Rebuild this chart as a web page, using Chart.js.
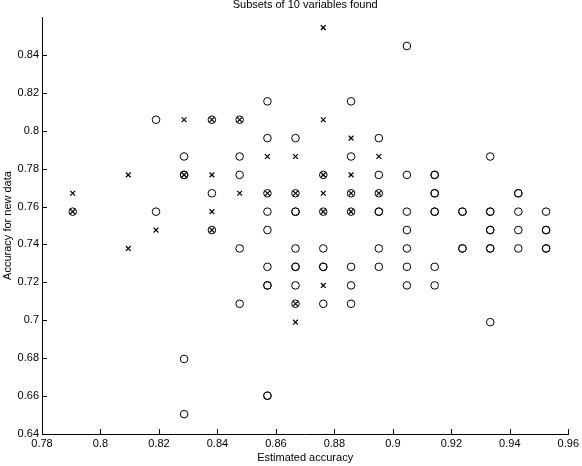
<!DOCTYPE html>
<html>
<head>
<meta charset="utf-8">
<script src="https://cdn.jsdelivr.net/npm/chart.js@4/dist/chart.umd.min.js"></script>
<style>
    html, body { margin: 0; padding: 0; background: #fff; }
    #wrap { width: 582px; height: 466px; }
</style>
</head>
<body>
<div id="wrap"><canvas id="scatter"></canvas></div>
<script>
// circles (duplicated subsets are listed twice)
const circleX = [
    0.7905,
    0.8190, 0.8190,
    0.8286, 0.8286, 0.8286, 0.8286, 0.8286,
    0.8381, 0.8381, 0.8381,
    0.8476, 0.8476, 0.8476, 0.8476, 0.8476,
    0.8571, 0.8571, 0.8571, 0.8571, 0.8571, 0.8571, 0.8571, 0.8571, 0.8571, 0.8571,
    0.8667, 0.8667, 0.8667, 0.8667, 0.8667, 0.8667, 0.8667, 0.8667, 0.8667,
    0.8762, 0.8762, 0.8762, 0.8762, 0.8762, 0.8762,
    0.8857, 0.8857, 0.8857, 0.8857, 0.8857, 0.8857, 0.8857,
    0.8952, 0.8952, 0.8952, 0.8952, 0.8952, 0.8952, 0.8952,
    0.9048, 0.9048, 0.9048, 0.9048, 0.9048, 0.9048, 0.9048,
    0.9143, 0.9143, 0.9143, 0.9143, 0.9143, 0.9143, 0.9143, 0.9143,
    0.9238, 0.9238, 0.9238, 0.9238,
    0.9333, 0.9333, 0.9333, 0.9333, 0.9333, 0.9333, 0.9333, 0.9333,
    0.9429, 0.9429, 0.9429, 0.9429, 0.9429,
    0.9524, 0.9524, 0.9524, 0.9524, 0.9524
];
const circleY = [
    0.7573,
    0.8058, 0.7573,
    0.7864, 0.7767, 0.7767, 0.6796, 0.6505,
    0.8058, 0.7670, 0.7476,
    0.8058, 0.7864, 0.7767, 0.7379, 0.7087,
    0.8155, 0.7961, 0.7670, 0.7573, 0.7476, 0.7282, 0.7184, 0.7184, 0.6602, 0.6602,
    0.7961, 0.7670, 0.7573, 0.7573, 0.7379, 0.7282, 0.7282, 0.7184, 0.7087,
    0.7767, 0.7573, 0.7379, 0.7282, 0.7282, 0.7087,
    0.8155, 0.7864, 0.7670, 0.7573, 0.7282, 0.7184, 0.7087,
    0.7961, 0.7767, 0.7670, 0.7573, 0.7573, 0.7379, 0.7282,
    0.8447, 0.7767, 0.7573, 0.7476, 0.7379, 0.7282, 0.7184,
    0.7767, 0.7767, 0.7670, 0.7670, 0.7573, 0.7573, 0.7282, 0.7184,
    0.7573, 0.7573, 0.7379, 0.7379,
    0.7864, 0.7573, 0.7573, 0.7476, 0.7476, 0.7379, 0.7379, 0.6990,
    0.7670, 0.7670, 0.7573, 0.7476, 0.7379,
    0.7573, 0.7476, 0.7476, 0.7379, 0.7379
];

// crosses
const crossX = [
    0.7905, 0.7905,
    0.8095, 0.8095,
    0.8190,
    0.8286, 0.8286,
    0.8381, 0.8381, 0.8381, 0.8381,
    0.8476, 0.8476,
    0.8571, 0.8571,
    0.8667, 0.8667, 0.8667, 0.8667,
    0.8762, 0.8762, 0.8762, 0.8762, 0.8762, 0.8762,
    0.8857, 0.8857, 0.8857, 0.8857,
    0.8952, 0.8952
];
const crossY = [
    0.7670, 0.7573,
    0.7767, 0.7379,
    0.7476,
    0.8058, 0.7767,
    0.8058, 0.7767, 0.7573, 0.7476,
    0.8058, 0.7670,
    0.7864, 0.7670,
    0.7864, 0.7670, 0.7087, 0.6990,
    0.8544, 0.8058, 0.7767, 0.7670, 0.7573, 0.7184,
    0.7961, 0.7767, 0.7670, 0.7573,
    0.7864, 0.7670
];

const xTicks = [0.78, 0.8, 0.82, 0.84, 0.86, 0.88, 0.9, 0.92, 0.94, 0.96];
const yTicks = [0.64, 0.66, 0.68, 0.7, 0.72, 0.74, 0.76, 0.78, 0.8, 0.82, 0.84];

const FONT = "'Liberation Sans', Arial, Helvetica, sans-serif";

function toPoints(xs, ys) {
    return xs.map((x, i) => ({ x: x, y: ys[i] }));
}

function fmt(v) {
    return String(+v.toFixed(2));
}

// matlab style: ticks pointing into the plot, title at the very top
const matlabAxes = {
    id: 'matlabAxes',
    afterDraw(chart) {
        const ctx = chart.ctx;
        const area = chart.chartArea;
        const sx = chart.scales.x;
        const sy = chart.scales.y;
        ctx.save();
        ctx.strokeStyle = '#000';
        ctx.lineWidth = 1;
        ctx.beginPath();
        xTicks.forEach(v => {
            const px = Math.round(sx.getPixelForValue(v)) + 0.5;
            ctx.moveTo(px, area.bottom);
            ctx.lineTo(px, area.bottom - 5);
        });
        yTicks.forEach(v => {
            const py = Math.round(sy.getPixelForValue(v)) + 0.5;
            ctx.moveTo(area.left, py);
            ctx.lineTo(area.left + 5, py);
        });
        ctx.stroke();

        ctx.fillStyle = '#000';
        ctx.font = '11px ' + FONT;
        ctx.textAlign = 'center';
        ctx.textBaseline = 'alphabetic';
        ctx.fillText('Subsets of 10 variables found', (area.left + area.right) / 2, 8);
        ctx.restore();
    }
};

const ctx = document.getElementById('scatter').getContext('2d');
new Chart(ctx, {
    type: 'scatter',
    data: {
        datasets: [{
            label: 'circles',
            data: toPoints(circleX, circleY),
            pointStyle: 'circle',
            pointRadius: 3.8,
            pointHoverRadius: 3.8,
            backgroundColor: 'rgba(0,0,0,0)',
            borderColor: '#000',
            borderWidth: 1
        }, {
            label: 'crosses',
            data: toPoints(crossX, crossY),
            pointStyle: 'crossRot',
            pointRadius: 3.4,
            pointHoverRadius: 3.4,
            borderColor: '#000',
            borderWidth: 1.2
        }]
    },
    options: {
        responsive: true,
        maintainAspectRatio: false,
        animation: false,
        layout: {
            padding: { top: 17, right: 12, left: 0, bottom: 0 }
        },
        plugins: {
            legend: { display: false },
            tooltip: { enabled: false }
        },
        scales: {
            x: {
                type: 'linear',
                min: 0.78,
                max: 0.96,
                afterFit: function(scale) { scale.height = 32; },
                afterBuildTicks: function(scale) {
                    scale.ticks = xTicks.map(v => ({ value: v }));
                },
                grid: { display: false, drawTicks: false },
                border: { display: true, color: '#000', width: 1 },
                ticks: {
                    color: '#000',
                    padding: 3,
                    maxRotation: 0,
                    autoSkip: false,
                    font: { family: FONT, size: 11 },
                    callback: function(value) { return fmt(value); }
                },
                title: {
                    display: true,
                    text: 'Estimated accuracy',
                    color: '#000',
                    padding: { top: 0, bottom: 1 },
                    font: { family: FONT, size: 11 }
                }
            },
            y: {
                type: 'linear',
                min: 0.64,
                max: 0.86,
                afterFit: function(scale) { scale.width = 42; },
                afterBuildTicks: function(scale) {
                    scale.ticks = yTicks.map(v => ({ value: v }));
                },
                grid: { display: false, drawTicks: false },
                border: { display: true, color: '#000', width: 1 },
                ticks: {
                    color: '#000',
                    padding: 3,
                    autoSkip: false,
                    font: { family: FONT, size: 11 },
                    callback: function(value) { return fmt(value); }
                },
                title: {
                    display: true,
                    text: 'Accuracy for new data',
                    color: '#000',
                    padding: { top: 1, bottom: 0 },
                    font: { family: FONT, size: 11 }
                }
            }
        }
    },
    plugins: [matlabAxes]
});
</script>
</body>
</html>
